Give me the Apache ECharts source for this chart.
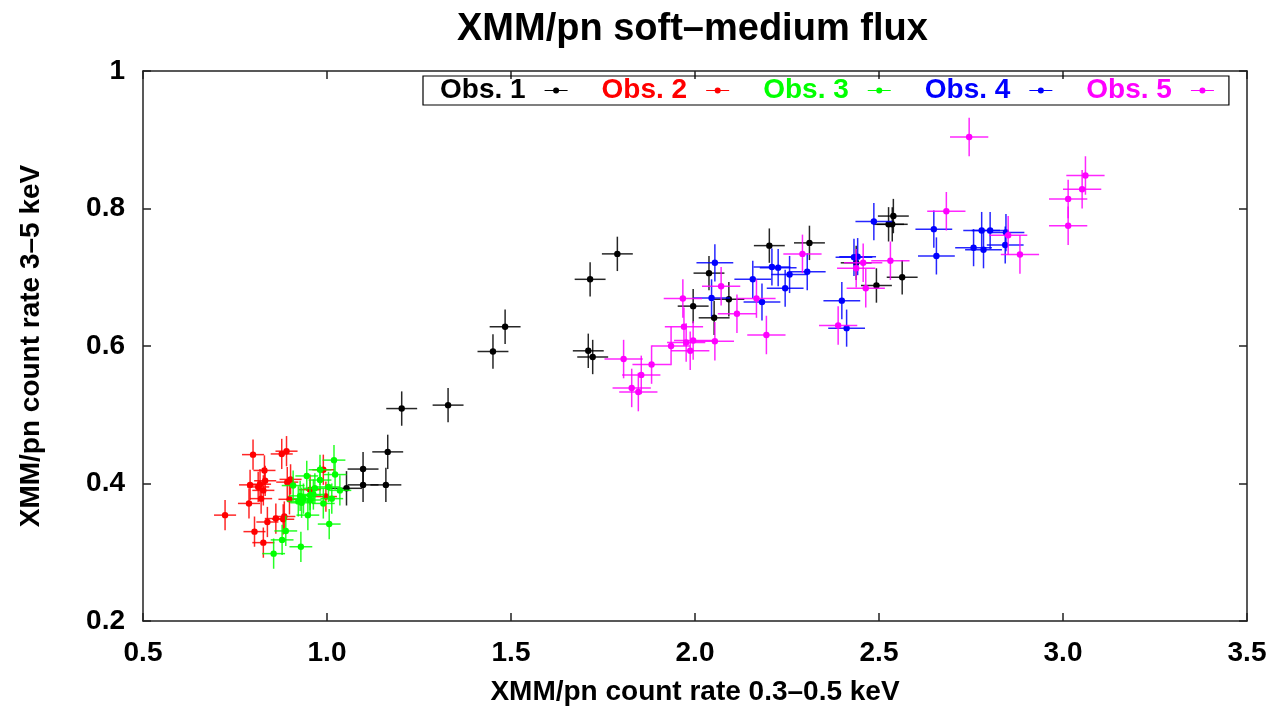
<!DOCTYPE html>
<html>
<head>
<meta charset="utf-8">
<script src="https://cdn.jsdelivr.net/npm/echarts@6/dist/echarts.min.js"></script>
<style>
html,body{margin:0;padding:0;background:#fff;}
#chart{width:1274px;height:711px;}
</style>
</head>
<body>
<div id="chart"></div>
<script>
// ---- data ----
const seriesNames = ['Obs. 1', 'Obs. 2', 'Obs. 3', 'Obs. 4', 'Obs. 5'];
const xTickLabels = ['0.5', '1.0', '1.5', '2.0', '2.5', '3.0', '3.5'];
const yTickLabels = ['0.2', '0.4', '0.6', '0.8', '1'];

const obs1 = [[1.053,0.393],[1.098,0.421],[1.098,0.398],[1.165,0.446],[1.160,0.398],[1.203,0.509],[1.329,0.514],[1.451,0.592],[1.484,0.628],[1.710,0.593],[1.722,0.584],[1.715,0.697],[1.789,0.734],[1.995,0.658],[2.038,0.706],[2.052,0.641],[2.092,0.668],[2.202,0.746],[2.311,0.750],[2.438,0.721],[2.493,0.688],[2.526,0.777],[2.536,0.777],[2.539,0.789],[2.563,0.700]];
const obs2 = [[0.723,0.354],[0.799,0.442],[0.877,0.443],[0.890,0.447],[0.830,0.419],[0.832,0.404],[0.791,0.398],[0.813,0.395],[0.818,0.399],[0.827,0.390],[0.821,0.378],[0.788,0.371],[0.892,0.402],[0.901,0.406],[0.898,0.377],[0.861,0.349],[0.838,0.344],[0.884,0.352],[0.881,0.348],[0.803,0.330],[0.827,0.314],[0.990,0.420],[0.954,0.391],[0.997,0.381]];
const obs3 = [[1.019,0.434],[0.981,0.420],[1.022,0.413],[0.945,0.411],[0.908,0.397],[0.967,0.393],[0.981,0.405],[1.004,0.395],[1.035,0.390],[0.927,0.382],[0.936,0.378],[0.954,0.383],[0.963,0.384],[0.922,0.374],[0.931,0.372],[0.954,0.376],[1.013,0.378],[0.990,0.371],[0.948,0.354],[1.006,0.341],[0.888,0.331],[0.878,0.318],[0.929,0.308],[0.855,0.298]];
const obs4 = [[2.054,0.721],[2.045,0.670],[2.157,0.697],[2.182,0.664],[2.209,0.715],[2.226,0.714],[2.245,0.684],[2.257,0.704],[2.305,0.708],[2.399,0.666],[2.412,0.626],[2.432,0.729],[2.442,0.730],[2.486,0.781],[2.649,0.770],[2.656,0.731],[2.757,0.743],[2.779,0.768],[2.784,0.740],[2.802,0.768],[2.843,0.747],[2.845,0.765]];
const obs5 = [[1.806,0.581],[1.828,0.539],[1.846,0.533],[1.854,0.558],[1.882,0.573],[1.935,0.600],[1.967,0.669],[1.970,0.628],[1.976,0.605],[1.987,0.593],[1.995,0.608],[2.054,0.607],[2.071,0.687],[2.114,0.647],[2.167,0.669],[2.194,0.616],[2.292,0.734],[2.389,0.630],[2.438,0.713],[2.457,0.721],[2.464,0.684],[2.531,0.724],[2.683,0.796],[2.745,0.904],[2.851,0.761],[2.883,0.733],[3.014,0.775],[3.014,0.814],[3.052,0.828],[3.061,0.848]];

// typical 1-sigma errors per observation [x error, y error]
const obs1Err = [0.042, 0.025];
const obs2Err = [0.030, 0.022];
const obs3Err = [0.031, 0.022];
const obs4Err = [0.050, 0.027];
const obs5Err = [0.052, 0.028];

const seriesColors = ['#000000', '#ff0000', '#00ff00', '#0000ff', '#ff00ff'];

// ---- chart ----
const FONT = "'Liberation Sans', Arial, Helvetica, sans-serif";
const allData = [obs1, obs2, obs3, obs4, obs5];
const allErr = [obs1Err, obs2Err, obs3Err, obs4Err, obs5Err];

function renderErr(params, api) {
  const x = api.value(0), y = api.value(1), ex = api.value(2), ey = api.value(3);
  const c = api.coord([x, y]);
  const l = api.coord([x - ex, y]), r = api.coord([x + ex, y]);
  const t = api.coord([x, y + ey]), b = api.coord([x, y - ey]);
  const color = api.visual('color');
  return {
    type: 'group',
    children: [
      { type: 'line', shape: { x1: l[0], y1: c[1], x2: r[0], y2: c[1] }, style: { stroke: color, lineWidth: 1.5, opacity: 0.85 } },
      { type: 'line', shape: { x1: c[0], y1: t[1], x2: c[0], y2: b[1] }, style: { stroke: color, lineWidth: 1.5, opacity: 0.85 } },
      { type: 'circle', shape: { cx: c[0], cy: c[1], r: 3.2 }, style: { fill: color } }
    ]
  };
}

const iconPath = 'path://M0,3 L23,3 L23,4 L0,4 Z M11.5,0.5 A3,3 0 1 1 11.5,6.5 A3,3 0 1 1 11.5,0.5 Z';

const series = seriesNames.map((name, i) => ({
  name: name,
  type: 'custom',
  renderItem: renderErr,
  itemStyle: { color: seriesColors[i] },
  encode: { x: 0, y: 1 },
  dimensions: ['x', 'y', 'ex', 'ey'],
  data: allData[i].map(p => [p[0], p[1], allErr[i][0], allErr[i][1]]),
  z: 2 + i
}));

const axisLineStyle = { color: '#222', width: 1.5 };
const tickStyle = { show: true, inside: true, length: 8, lineStyle: { color: '#222', width: 1.5 } };

const option = {
  animation: false,
  backgroundColor: '#fff',
  title: {
    text: 'XMM/pn soft\u2013medium flux',
    left: 457,
    top: 11,
    padding: 0,
    textStyle: { fontFamily: FONT, fontWeight: 'bold', fontSize: 38, color: '#000', lineHeight: 38 }
  },
  legend: {
    left: 423,
    top: 76,
    orient: 'horizontal',
    align: 'right',
    padding: [0, 15, 0, 17],
    itemGap: 34,
    itemWidth: 23,
    itemHeight: 6,
    borderColor: '#000',
    borderWidth: 1.2,
    selectedMode: false,
    itemStyle: { borderWidth: 0 },
    data: seriesNames.map((n, i) => ({
      name: n,
      icon: iconPath,
      textStyle: { color: seriesColors[i] }
    })),
    textStyle: { fontFamily: FONT, fontWeight: 'bold', fontSize: 28, lineHeight: 29, padding: [0, 14, 0, 0] }
  },
  grid: { left: 143, right: 27, top: 71, bottom: 88, containLabel: false },
  xAxis: [
    {
      type: 'value', min: 0.5, max: 3.5, interval: 0.5, position: 'bottom',
      name: 'XMM/pn count rate 0.3\u20130.5 keV', nameLocation: 'middle', nameGap: 57,
      nameTextStyle: { fontFamily: FONT, fontWeight: 'bold', fontSize: 28, color: '#000' },
      axisLine: { show: true, lineStyle: axisLineStyle },
      axisTick: tickStyle,
      splitLine: { show: false },
      axisLabel: {
        margin: 18, fontFamily: FONT, fontWeight: 'bold', fontSize: 28, color: '#000',
        formatter: v => xTickLabels[Math.round((v - 0.5) / 0.5)]
      }
    },
    {
      type: 'value', min: 0.5, max: 3.5, interval: 0.5, position: 'top',
      axisLine: { show: true, onZero: false, lineStyle: axisLineStyle },
      axisTick: tickStyle, axisLabel: { show: false }, splitLine: { show: false }
    }
  ],
  yAxis: [
    {
      type: 'value', min: 0.2, max: 1, interval: 0.2, position: 'left',
      name: 'XMM/pn count rate 3\u20135 keV', nameLocation: 'middle', nameGap: 98,
      nameTextStyle: { fontFamily: FONT, fontWeight: 'bold', fontSize: 28, color: '#000' },
      axisLine: { show: true, lineStyle: axisLineStyle },
      axisTick: tickStyle,
      splitLine: { show: false },
      axisLabel: {
        margin: 18, fontFamily: FONT, fontWeight: 'bold', fontSize: 28, color: '#000',
        formatter: v => yTickLabels[Math.round((v - 0.2) / 0.2)]
      }
    },
    {
      type: 'value', min: 0.2, max: 1, interval: 0.2, position: 'right',
      axisLine: { show: true, onZero: false, lineStyle: axisLineStyle },
      axisTick: tickStyle, axisLabel: { show: false }, splitLine: { show: false }
    }
  ],
  series: series
};

const chart = echarts.init(document.getElementById('chart'), null, { renderer: 'canvas' });
chart.setOption(option);
</script>
</body>
</html>
